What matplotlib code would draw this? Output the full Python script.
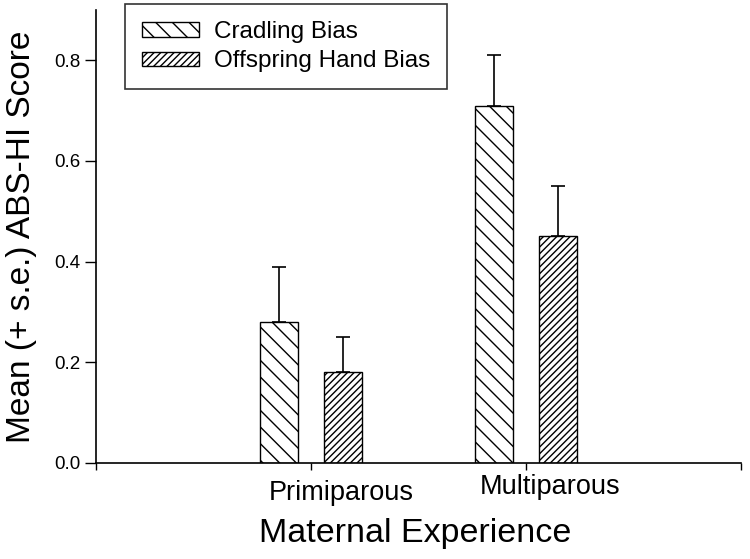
import matplotlib
matplotlib.use('Agg')
import matplotlib.pyplot as plt
import matplotlib.transforms as mtransforms
import numpy as np

plt.rcParams['font.family'] = ['Liberation Sans', 'DejaVu Sans']
plt.rcParams['hatch.linewidth'] = 1.0

groups = ['Primiparous', 'Multiparous']
series = ['Cradling Bias', 'Offspring Hand Bias']
cradling = [0.28, 0.71]
cradling_se = [0.11, 0.10]
offspring = [0.18, 0.45]
offspring_se = [0.07, 0.10]

fig = plt.figure(figsize=(7.5, 5.59), dpi=100)
ax = fig.add_axes([0.128, 0.172, 0.86, 0.81])

x = np.arange(1, len(groups) + 1)
w = 0.18
off = 0.149

ax.bar(x - off, cradling, w, yerr=[np.zeros(2), cradling_se],
       capsize=5, color='white', edgecolor='black', hatch='\\\\',
       linewidth=1, error_kw=dict(elinewidth=1.2, capthick=1.2, ecolor='black'),
       label=series[0])
ax.bar(x + off, offspring, w, yerr=[np.zeros(2), offspring_se],
       capsize=5, color='white', edgecolor='black', hatch='/////',
       linewidth=1, error_kw=dict(elinewidth=1.2, capthick=1.2, ecolor='black'),
       label=series[1])

ax.set_xlim(0, 3)
ax.set_ylim(0, 0.9)
ax.set_yticks([0.0, 0.2, 0.4, 0.6, 0.8])
ax.set_yticklabels(['0.0', '0.2', '0.4', '0.6', '0.8'], fontsize=13.5)
ax.set_xticks([0, 1, 2, 3])
ax.set_xticklabels(['', groups[0], groups[1], ''], fontsize=19.5)
ax.tick_params(axis='y', direction='out', length=8, width=1)
ax.tick_params(axis='x', direction='out', length=5, width=1, pad=3)

# category labels sit a little right of their ticks, as in the original
shifts = {groups[0]: (0.30, -0.06), groups[1]: (0.24, 0.0)}
for lab in ax.get_xticklabels():
    t = lab.get_text()
    if t in shifts:
        dx, dy = shifts[t]
        lab.set_transform(lab.get_transform() +
                          mtransforms.ScaledTranslation(dx, dy, fig.dpi_scale_trans))

for s in ['top', 'right']:
    ax.spines[s].set_visible(False)
for s in ['left', 'bottom']:
    ax.spines[s].set_linewidth(1.2)

ax.set_ylabel('Mean (+ s.e.) ABS-HI Score', fontsize=24, labelpad=12)
ax.set_xlabel('Maternal Experience', fontsize=24.5)
ax.xaxis.set_label_coords(0.495, -0.121)

leg = ax.legend(loc='upper left', bbox_to_anchor=(0.045, 1.013), fontsize=17.5,
                frameon=True, fancybox=False, edgecolor='black',
                handlelength=2.35, handleheight=0.55, handletextpad=0.6,
                borderpad=0.7, labelspacing=0.3, borderaxespad=0)
leg.get_frame().set_linewidth(1.2)

fig.savefig('out.png', dpi=100)
